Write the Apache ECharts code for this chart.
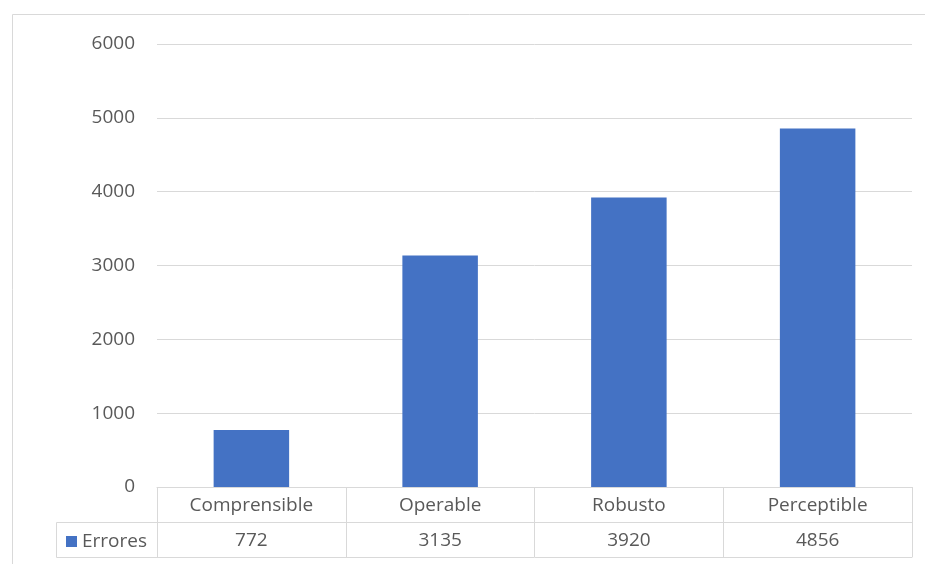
<!DOCTYPE html>
<html>
<head>
<meta charset="utf-8">
<script src="https://cdn.jsdelivr.net/npm/echarts@6/dist/echarts.min.js"></script>
<style>
  html, body { margin: 0; padding: 0; background: #fff; }
  #chart { width: 925px; height: 564px; }
</style>
</head>
<body>
<div id="chart"></div>
<script>
  var categories = ['Comprensible', 'Operable', 'Robusto', 'Perceptible'];
  var errores = [772, 3135, 3920, 4856];
  var seriesName = 'Errores';

  var chartDom = document.getElementById('chart');
  var myChart = echarts.init(chartDom);

  var textColor = '#595959';
  var lineColor = '#D9D9D9';
  var font = 'Open Sans';

  var option = {
    animation: false,
    grid: { left: 157, right: 13, top: 44, bottom: 77 },
    legend: {
      data: [seriesName],
      left: 61,
      top: 527,
      icon: 'rect',
      itemWidth: 11,
      itemHeight: 11,
      itemGap: 5,
      textStyle: { color: textColor, fontFamily: font, fontSize: 19 }
    },
    xAxis: [
      {
        type: 'category',
        data: categories,
        position: 'bottom',
        axisLine: { show: true, lineStyle: { color: lineColor, width: 1 } },
        axisTick: { show: true, inside: false, length: 35, lineStyle: { color: lineColor } },
        axisLabel: { color: textColor, fontFamily: font, fontSize: 19, margin: 9 }
      },
      {
        type: 'category',
        data: errores.map(String),
        position: 'bottom',
        offset: 35,
        axisLine: { show: true, lineStyle: { color: lineColor, width: 1 } },
        axisTick: { show: true, inside: false, length: 35, lineStyle: { color: lineColor } },
        axisLabel: { color: textColor, fontFamily: font, fontSize: 19, margin: 9 }
      },
      {
        type: 'category',
        data: categories,
        position: 'bottom',
        offset: 70,
        axisLine: { show: true, lineStyle: { color: lineColor, width: 1 } },
        axisTick: { show: false },
        axisLabel: { show: false }
      }
    ],
    yAxis: {
      type: 'value',
      min: 0,
      max: 6000,
      interval: 1000,
      axisLine: { show: false },
      axisTick: { show: false },
      axisLabel: {
        color: textColor, fontFamily: font, fontSize: 19, margin: 22,
        formatter: function (v) { return String(v); }
      },
      splitLine: { lineStyle: { color: lineColor, width: 1 } }
    },
    graphic: [
      {
        type: 'rect',
        shape: { x: 12.5, y: 14.5, width: 940, height: 580 },
        style: { fill: 'none', stroke: lineColor, lineWidth: 1 },
        silent: true
      },
      {
        type: 'polyline',
        shape: { points: [[157, 522.5], [56.5, 522.5], [56.5, 557.5], [157, 557.5]] },
        style: { fill: 'none', stroke: lineColor, lineWidth: 1 },
        silent: true
      }
    ],
    series: [
      {
        name: seriesName,
        type: 'bar',
        xAxisIndex: 0,
        data: errores,
        barWidth: '40%',
        itemStyle: { color: '#4472C4' }
      }
    ]
  };

  myChart.setOption(option);
</script>
</body>
</html>
